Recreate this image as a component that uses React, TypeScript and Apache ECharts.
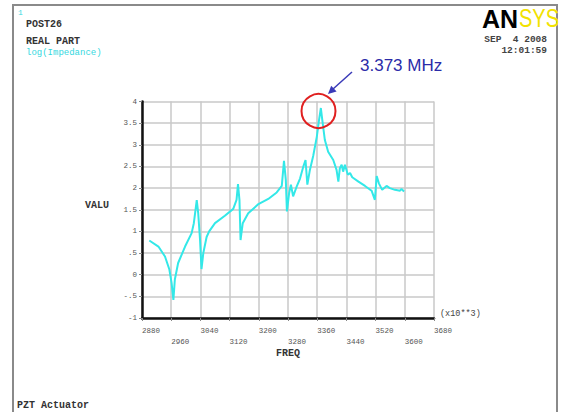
import React, { useEffect, useRef } from "react";
import * as echarts from "echarts";

const freqs = [
  2900, 2925, 2943, 2955, 2961, 2966, 2970, 2979, 2998, 3016, 3022, 3030, 3034, 3039, 3043, 3048,
  3057, 3064, 3080, 3107, 3130, 3139, 3143, 3147, 3150, 3156, 3171, 3199, 3226, 3249, 3263, 3269,
  3274, 3277, 3283, 3288, 3294, 3304, 3313, 3322, 3328, 3333, 3340, 3349, 3359, 3365, 3370, 3374,
  3381, 3390, 3404, 3413, 3418, 3422, 3427, 3431, 3436, 3444, 3450, 3456, 3473, 3491, 3509, 3518,
  3523, 3529, 3538, 3550, 3559, 3573, 3587, 3591, 3598,
];
const values = [
  0.79, 0.65, 0.42, 0.12, -0.19, -0.58, -0.11, 0.27, 0.65, 0.96, 1.19, 1.72, 1.42, 0.81, 0.13, 0.5,
  0.87, 1.0, 1.19, 1.36, 1.52, 1.73, 2.09, 1.73, 0.8, 1.19, 1.42, 1.63, 1.75, 1.9, 2.05, 2.63,
  2.19, 1.46, 1.88, 2.08, 1.81, 2.04, 2.22, 2.5, 2.65, 2.08, 2.42, 2.74, 3.19, 3.57, 3.85, 3.57,
  3.11, 2.84, 2.65, 2.42, 2.15, 2.46, 2.54, 2.38, 2.54, 2.31, 2.35, 2.25, 2.15, 2.05, 1.94, 1.73,
  2.28, 2.11, 1.96, 2.05, 2.0, 1.96, 1.94, 1.98, 1.92,
];
const xTicks = { min: 2880, max: 3680, step: 80 };
const yTicks = { min: -1, max: 4, step: 0.5 };
const headerLines = ["POST26", "REAL PART"];
const subtitle = "log(Impedance)";
const dateLines = ["SEP  4 2008", "12:01:59"];
const peakLabel = "3.373 MHz";

const MONO = "Liberation Mono";

export default function App() {
  const ref = useRef<HTMLDivElement>(null);
  useEffect(() => {
    const chart = echarts.init(ref.current!, null, { renderer: "svg" });
    const txt = (text: string, x: number, y: number, extra: any = {}) => ({
      type: "text",
      x,
      y,
      silent: true,
      style: {
        text,
        fontFamily: MONO,
        fontSize: 10,
        fontWeight: "bold",
        fill: "#333",
        align: "left",
        verticalAlign: "middle",
        ...extra,
      },
    });
    chart.setOption({
      animation: false,
      backgroundColor: "#fff",
      grid: { left: 142, right: 127, top: 101.5, bottom: 94, containLabel: false },
      xAxis: {
        type: "value",
        min: xTicks.min,
        max: xTicks.max,
        interval: xTicks.step,
        axisLine: { show: true, onZero: false, lineStyle: { color: "#111", width: 2.5 } },
        axisTick: { show: true, length: 3, lineStyle: { color: "#888" } },
        splitLine: { show: true, lineStyle: { color: "#c8c8c8", width: 1.5 } },
        axisLabel: {
          fontFamily: MONO,
          fontSize: 7.5,
          color: "#555",
          align: "left",
          lineHeight: 11,
          margin: 7,
          formatter: (v: number, i: number) => (i % 2 ? "\n" + v : String(v)),
        },
      },
      yAxis: {
        type: "value",
        min: yTicks.min,
        max: yTicks.max,
        interval: yTicks.step,
        axisLine: { show: true, onZero: false, lineStyle: { color: "#111", width: 2.5 } },
        axisTick: { show: true, length: 3, lineStyle: { color: "#888" } },
        splitLine: { show: true, lineStyle: { color: "#c8c8c8", width: 1.5 } },
        axisLabel: {
          fontFamily: MONO,
          fontSize: 7.5,
          color: "#555",
          margin: 5,
          formatter: (v: number) => (v === 0 ? "0" : String(v).replace(/^(-?)0\./, "$1.")),
        },
      },
      series: [
        {
          type: "line",
          data: freqs.map((f, i) => [f, values[i]]),
          showSymbol: false,
          symbol: "none",
          lineStyle: { color: "#33e8e8", width: 2 },
          z: 5,
        },
      ],
      graphic: [
        {
          type: "rect",
          shape: { x: 13, y: 5, width: 544, height: 430 },
          style: { fill: "none", stroke: "#8a8a8a", lineWidth: 2 },
          silent: true,
        },
        txt("1", 18, 12, { fill: "#33d8e0", fontSize: 8, fontWeight: "normal" }),
        txt(headerLines[0], 26, 24),
        txt(headerLines[1], 26, 41.5),
        txt(subtitle, 26, 53, { fill: "#33d8e0", fontWeight: "normal", fontSize: 9 }),
        txt(dateLines[0], 547, 39, { align: "right", fontSize: 9.5, fill: "#444" }),
        txt(dateLines[1], 547, 50, { align: "right", fontSize: 9.5, fill: "#444" }),
        {
          type: "text",
          x: 518,
          y: 19,
          silent: true,
          style: {
            text: "AN",
            fontFamily: "Liberation Sans",
            fontSize: 25,
            fontWeight: "bold",
            fill: "#000",
            align: "right",
            verticalAlign: "middle",
          },
        },
        {
          type: "text",
          x: 519,
          y: 19,
          scaleX: 0.8,
          silent: true,
          style: {
            text: "SYS",
            fontFamily: "Liberation Sans",
            fontSize: 25,
            fill: "#f2e200",
            align: "left",
            verticalAlign: "middle",
          },
        },
        txt("VALU", 85, 205),
        txt("FREQ", 288, 353, { align: "center" }),
        txt("(x10**3)", 440, 314, { fontSize: 8.5, fontWeight: "normal", fill: "#444" }),
        txt("PZT Actuator", 17, 405),
        {
          type: "circle",
          shape: { cx: 318.5, cy: 111, r: 17 },
          style: { fill: "none", stroke: "#e02020", lineWidth: 2 },
          silent: true,
          z: 10,
        },
        {
          type: "line",
          shape: { x1: 352, y1: 72, x2: 333, y2: 89 },
          style: { stroke: "#3a3ab8", lineWidth: 1.5 },
          silent: true,
          z: 10,
        },
        {
          type: "polygon",
          shape: { points: [[328, 94], [336.6, 91.5], [331.2, 85.7]] },
          style: { fill: "#3a3ab8" },
          silent: true,
          z: 10,
        },
        {
          type: "text",
          x: 360,
          y: 65,
          silent: true,
          z: 10,
          style: {
            text: peakLabel,
            fontFamily: "Liberation Sans",
            fontSize: 17,
            fill: "#2b2ba8",
            align: "left",
            verticalAlign: "middle",
          },
        },
      ],
    });
    return () => chart.dispose();
  }, []);
  return (
    <div
      ref={ref}
      style={{ position: "fixed", left: 0, top: 0, width: 561, height: 412 }}
    />
  );
}
